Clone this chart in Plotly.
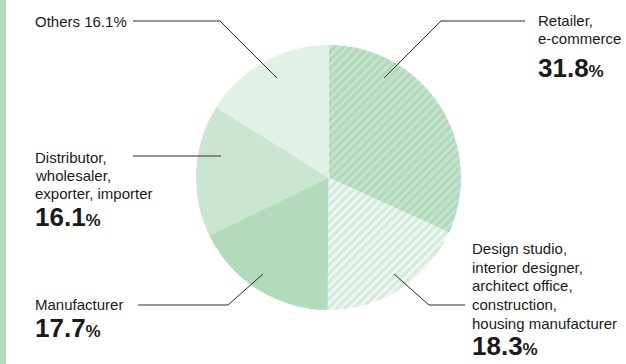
import plotly.graph_objects as go

# ---- data ----
categories = ["Retailer, e-commerce",
              "Design studio, interior designer, architect office, construction, housing manufacturer",
              "Manufacturer",
              "Distributor, wholesaler, exporter, importer",
              "Others"]
shares = [31.8, 18.3, 17.7, 16.1, 16.1]
pct_labels = ["31.8", "18.3", "17.7", "16.1", "16.1"]

slice_colors = ["#c4e4cc", "#eef7f0", "#b2dbbb", "#cae6d2", "#e2f1e5"]
stripe_colors = ["#afd9b9", "#d3eada", "#b2dbbb", "#cae6d2", "#e2f1e5"]
stripe_shapes = ["/", "/", "", "", ""]

W, H = 626, 364
FONT = "Liberation Sans, Arial, Helvetica, sans-serif"
TXT = "#1a1a1a"

def px(x):
    return x / W

def py(y):
    return 1 - y / H

cx, cy, r = 328.5, 177.5, 132.5

fig = go.Figure(go.Pie(
    labels=categories,
    values=shares,
    sort=False,
    direction="clockwise",
    rotation=0,
    textinfo="none",
    hoverinfo="label+percent",
    marker=dict(
        colors=slice_colors,
        line=dict(width=0),
        pattern=dict(shape=stripe_shapes, fgcolor=stripe_colors, bgcolor=slice_colors,
                     size=6, solidity=0.5, fillmode="replace"),
    ),
    domain=dict(x=[px(cx - r), px(cx + r)], y=[py(cy + r), py(cy - r)]),
    showlegend=False,
))

annotations = []

def txt(x, y, s, size=15, anchor="left"):
    annotations.append(dict(
        x=px(x), y=py(y), xref="paper", yref="paper", text=s, showarrow=False,
        xanchor=anchor, yanchor="middle",
        font=dict(family=FONT, size=size, color=TXT),
    ))

def big(x, y, s):
    txt(x, y, "<b>" + s + "</b><span style='font-size:17px'><b>%</b></span>", size=26)

# Others
txt(33, 21, "Others " + pct_labels[4] + "%")
# Distributor
txt(33, 157, "Distributor,")
txt(33, 175, "wholesaler,")
txt(33, 193, "exporter, importer")
big(33, 217, pct_labels[3])
# Manufacturer
txt(33, 304, "Manufacturer")
big(33, 328, pct_labels[2])
# Retailer
txt(536, 20, "Retailer,")
txt(536, 39, "e-commerce")
big(536, 68, pct_labels[0])
# Design studio
txt(470, 248, "Design studio,")
txt(470, 267, "interior designer,")
txt(470, 285, "architect office,")
txt(470, 304, "construction,")
txt(470, 323, "housing manufacturer")
big(470, 346, pct_labels[1])

shapes = []

def leader(points):
    d = "M " + " L ".join(f"{px(x):.5f},{py(y):.5f}" for x, y in points)
    shapes.append(dict(type="path", xref="paper", yref="paper", path=d,
                       line=dict(color="#2b2b2b", width=1)))

leader([(133, 21), (220, 21), (277, 78)])
leader([(133, 156), (221, 156)])
leader([(138, 305), (228, 305), (263, 274)])
leader([(384, 78), (441, 21), (525, 21)])
leader([(394, 274), (429, 305), (465, 305)])

# left accent bar
shapes.append(dict(type="rect", xref="paper", yref="paper",
                   x0=0, x1=px(6), y0=0, y1=1, fillcolor="#b3dcbd", line=dict(width=0)))

fig.update_layout(
    width=W, height=H,
    margin=dict(l=0, r=0, t=0, b=0),
    paper_bgcolor="white", plot_bgcolor="white",
    annotations=annotations, shapes=shapes,
)

fig.write_html("out.html")
